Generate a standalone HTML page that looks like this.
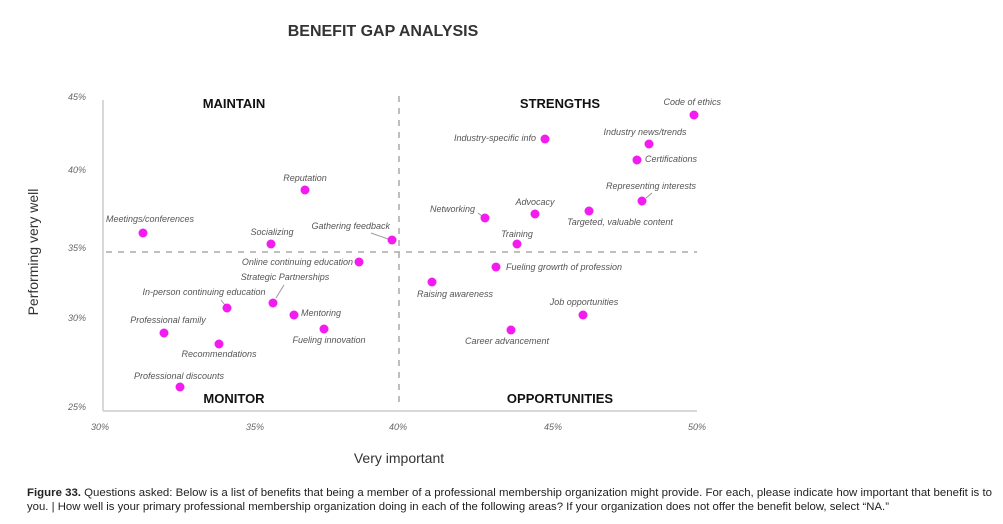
<!DOCTYPE html>
<html><head><meta charset="utf-8"><style>
body{margin:0;background:#fff;width:1003px;height:524px;overflow:hidden}
svg{display:block;font-family:"Liberation Sans",sans-serif}
.l{font-size:9px;font-style:italic;fill:#555}
.t{font-size:9px;font-style:italic;fill:#666}
.q{font-size:13px;font-weight:bold;fill:#111}
circle{fill:#f31cf0}
</style></head><body>
<svg width="1003" height="524">
<text x="383" y="36" text-anchor="middle" style="font-size:16px;font-weight:bold;fill:#333">BENEFIT GAP ANALYSIS</text>
<line x1="103" y1="100" x2="103" y2="411" stroke="#ccc" stroke-width="1.5"/>
<line x1="103" y1="411" x2="697" y2="411" stroke="#ccc" stroke-width="1.5"/>
<line x1="399" y1="96" x2="399" y2="408" stroke="#aaa" stroke-width="1.5" stroke-dasharray="6,6"/>
<line x1="106" y1="252" x2="697" y2="252" stroke="#aaa" stroke-width="1.5" stroke-dasharray="6,6"/>
<g class="t" text-anchor="end">
<text x="86" y="100">45%</text><text x="86" y="173">40%</text><text x="86" y="251">35%</text><text x="86" y="321">30%</text><text x="86" y="410">25%</text>
</g>
<g class="t" text-anchor="middle">
<text x="100" y="430">30%</text><text x="255" y="430">35%</text><text x="398" y="430">40%</text><text x="553" y="430">45%</text><text x="697" y="430">50%</text>
</g>
<text class="q" x="234" y="108" text-anchor="middle">MAINTAIN</text>
<text class="q" x="560" y="108" text-anchor="middle">STRENGTHS</text>
<text class="q" x="234" y="403" text-anchor="middle">MONITOR</text>
<text class="q" x="560" y="403" text-anchor="middle">OPPORTUNITIES</text>
<text x="399" y="463" text-anchor="middle" style="font-size:14px;fill:#333">Very important</text>
<text transform="translate(38,252) rotate(-90)" text-anchor="middle" style="font-size:14px;fill:#333">Performing very well</text>
<g stroke="#999" stroke-width="1">
<line x1="371" y1="233" x2="388" y2="239"/><line x1="276" y1="298" x2="284" y2="285"/><line x1="221" y1="300" x2="225" y2="305"/>
<line x1="478" y1="213" x2="482" y2="216"/><line x1="646" y1="198" x2="652" y2="193"/>
</g>
<g>
<circle cx="143" cy="233" r="4.5"/><circle cx="305" cy="190" r="4.5"/><circle cx="271" cy="244" r="4.5"/><circle cx="392" cy="240" r="4.5"/>
<circle cx="359" cy="262" r="4.5"/><circle cx="273" cy="303" r="4.5"/><circle cx="227" cy="308" r="4.5"/><circle cx="294" cy="315" r="4.5"/>
<circle cx="164" cy="333" r="4.5"/><circle cx="324" cy="329" r="4.5"/><circle cx="219" cy="344" r="4.5"/><circle cx="180" cy="387" r="4.5"/>
<circle cx="545" cy="139" r="4.5"/><circle cx="694" cy="115" r="4.5"/><circle cx="649" cy="144" r="4.5"/><circle cx="637" cy="160" r="4.5"/>
<circle cx="642" cy="201" r="4.5"/><circle cx="485" cy="218" r="4.5"/><circle cx="535" cy="214" r="4.5"/><circle cx="589" cy="211" r="4.5"/>
<circle cx="517" cy="244" r="4.5"/><circle cx="496" cy="267" r="4.5"/><circle cx="432" cy="282" r="4.5"/><circle cx="583" cy="315" r="4.5"/><circle cx="511" cy="330" r="4.5"/>
</g>
<g class="l" text-anchor="middle">
<text x="150" y="222">Meetings/conferences</text><text x="305" y="181">Reputation</text><text x="272" y="235">Socializing</text>
<text x="285" y="280">Strategic Partnerships</text><text x="204" y="295">In-person continuing education</text>
<text x="168" y="323">Professional family</text><text x="329" y="343">Fueling innovation</text><text x="219" y="357">Recommendations</text>
<text x="179" y="379">Professional discounts</text><text x="645" y="135">Industry news/trends</text><text x="651" y="189">Representing interests</text>
<text x="535" y="205">Advocacy</text><text x="620" y="225">Targeted, valuable content</text><text x="517" y="237">Training</text>
<text x="455" y="297">Raising awareness</text><text x="584" y="305">Job opportunities</text><text x="507" y="344">Career advancement</text>
</g>
<g class="l" text-anchor="end">
<text x="390" y="229">Gathering feedback</text><text x="353" y="265">Online continuing education</text>
<text x="536" y="141">Industry-specific info</text><text x="721" y="105">Code of ethics</text><text x="475" y="212">Networking</text>
</g>
<g class="l">
<text x="301" y="316">Mentoring</text><text x="645" y="162">Certifications</text><text x="506" y="270">Fueling growrth of profession</text>
</g>
<text x="27" y="496" textLength="965" lengthAdjust="spacingAndGlyphs" style="font-size:11px;fill:#222"><tspan font-weight="bold">Figure 33.</tspan> Questions asked: Below is a list of benefits that being a member of a professional membership organization might provide. For each, please indicate how important that benefit is to</text>
<text x="27" y="510" textLength="862" lengthAdjust="spacingAndGlyphs" style="font-size:11px;fill:#222">you. | How well is your primary professional membership organization doing in each of the following areas? If your organization does not offer the benefit below, select “NA.”</text>
</svg>
</body></html>
